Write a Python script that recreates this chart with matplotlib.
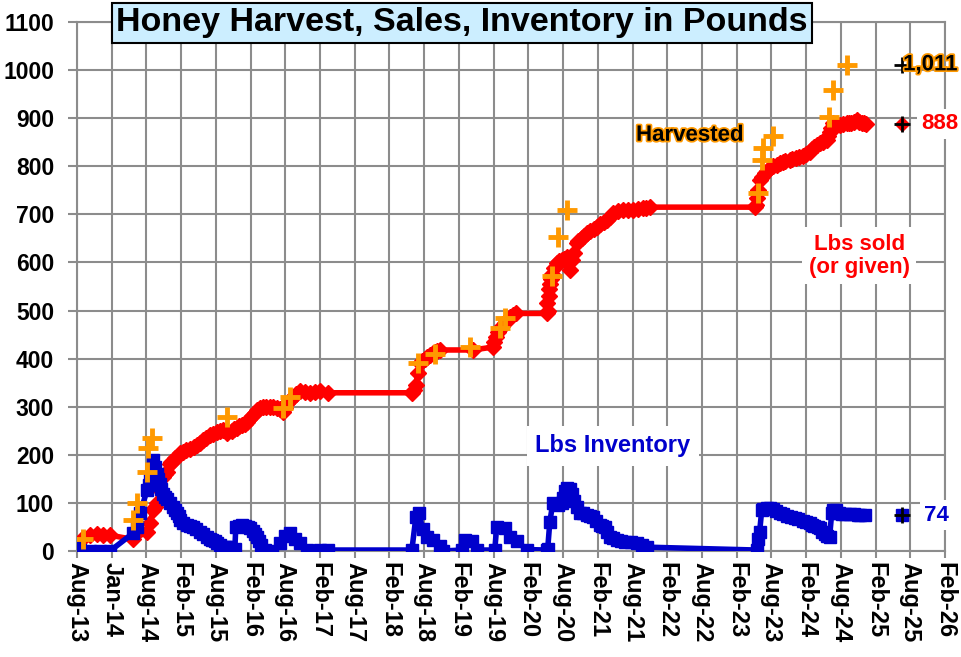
import numpy as np
import matplotlib
matplotlib.use("Agg")
import matplotlib.pyplot as plt
import matplotlib.dates as mdates
import matplotlib.patheffects as pe

plt.rcParams['font.family'] = ['Liberation Sans', 'DejaVu Sans']
plt.rcParams['font.weight'] = 'bold'

# cumulative pounds sold (or given)
sold_dates = [
    '2013-08-01', '2013-09-02', '2013-10-10', '2013-11-14', '2013-12-16', '2014-01-22',
    '2014-05-23', '2014-08-05', '2014-08-21', '2014-09-06', '2014-09-16', '2014-09-27',
    '2014-10-12', '2014-10-28', '2014-11-08', '2014-11-18', '2014-12-04', '2014-12-12',
    '2014-12-20', '2015-01-01', '2015-01-15', '2015-01-28', '2015-02-11', '2015-02-25',
    '2015-03-20', '2015-04-08', '2015-04-26', '2015-05-12', '2015-05-28', '2015-06-14',
    '2015-07-04', '2015-07-20', '2015-08-09', '2015-08-25', '2015-09-09', '2015-10-01',
    '2015-10-27', '2015-11-08', '2015-11-22', '2015-12-05', '2015-12-19', '2016-01-01',
    '2016-01-14', '2016-01-27', '2016-02-10', '2016-02-23', '2016-03-07', '2016-03-22',
    '2016-04-07', '2016-04-25', '2016-05-14', '2016-05-31', '2016-06-20', '2016-07-06',
    '2016-07-22', '2016-08-01', '2016-08-12', '2016-08-28', '2016-09-13', '2016-09-28',
    '2016-10-19', '2016-11-15', '2016-12-11', '2017-01-06', '2017-02-02', '2017-03-16',
    '2018-06-01', '2018-06-11', '2018-06-22', '2018-07-02', '2018-07-13', '2018-07-22',
    '2018-08-08', '2018-08-22', '2018-09-04', '2018-09-18', '2018-09-30', '2018-10-14',
    '2018-10-26', '2019-04-18',
    '2019-08-02', '2019-08-10', '2019-08-17', '2019-08-28', '2019-09-08', '2019-09-21',
    '2019-10-04', '2019-10-17', '2019-10-30', '2019-11-15', '2019-12-01',
    '2020-05-12', '2020-05-15', '2020-05-17', '2020-05-22', '2020-05-25', '2020-05-28',
    '2020-06-02', '2020-06-08', '2020-06-20', '2020-07-04', '2020-07-17', '2020-07-30',
    '2020-08-12', '2020-08-26', '2020-09-01', '2020-09-11', '2020-09-21', '2020-10-01',
    '2020-10-17', '2020-10-25', '2020-11-13', '2020-11-26', '2020-12-09', '2020-12-27',
    '2021-01-15', '2021-01-30', '2021-02-19', '2021-03-10', '2021-03-24', '2021-04-09',
    '2021-04-25', '2021-05-20', '2021-06-16', '2021-07-13', '2021-08-09', '2021-09-06',
    '2021-09-30', '2021-10-18', '2021-11-06',
    '2023-05-13', '2023-05-18', '2023-05-23', '2023-05-31', '2023-06-08', '2023-06-21',
    '2023-07-04', '2023-07-17', '2023-07-31', '2023-08-16', '2023-09-05', '2023-09-22',
    '2023-10-07', '2023-10-22', '2023-11-13', '2023-11-28', '2023-12-19', '2024-01-03',
    '2024-01-20', '2024-02-06', '2024-02-27', '2024-03-11', '2024-03-23', '2024-04-06',
    '2024-04-19', '2024-05-07', '2024-05-26', '2024-06-03', '2024-06-11', '2024-06-19',
    '2024-06-27', '2024-07-14', '2024-08-03', '2024-08-20', '2024-09-09', '2024-09-21',
    '2024-10-04', '2024-10-18', '2024-11-01', '2024-11-13', '2024-11-26', '2024-12-09',
    '2024-12-22',
]
sold_lbs = [
    2, 28, 33, 35, 33, 33,
    24, 40, 58, 85, 92, 100,
    127, 154, 160, 165, 180, 185,
    188, 193, 198, 203, 206, 209,
    212, 216, 220, 225, 230, 236,
    241, 244, 248, 250, 252, 245,
    250, 253, 256, 259, 262, 265,
    269, 274, 280, 286, 293, 298,
    300, 300, 300, 299, 298, 295,
    289, 298, 307, 314, 320, 326,
    332, 331, 328, 330, 332, 329,
    329, 335, 345, 370, 390, 395,
    400, 404, 408, 411, 414, 416,
    418, 418,
    424, 435, 445, 455, 462, 468,
    475, 481, 487, 491, 494,
    494, 515, 500, 530, 545, 555,
    565, 575, 588, 598, 602, 605,
    608, 611, 598, 585, 605, 620,
    640, 645, 650, 655, 661, 665,
    670, 674, 680, 684, 688, 695,
    702, 706, 709, 709, 709, 711,
    713, 714, 715,
    715, 720, 735, 750, 771, 778,
    785, 791, 796, 800, 803, 806,
    809, 811, 813, 815, 817, 820,
    822, 826, 830, 836, 840, 845,
    848, 851, 854, 862, 871, 880,
    890, 888, 885, 887, 890, 890,
    889, 893, 896, 893, 891, 889,
    888,
]

# cumulative pounds harvested
harvest_dates = [
    '2013-09-02', '2014-05-23', '2014-06-13', '2014-08-05', '2014-08-10', '2014-08-31',
    '2015-10-01', '2016-07-22', '2016-08-28', '2018-07-02', '2018-09-30', '2019-04-02',
    '2019-09-08', '2019-10-04', '2020-06-08', '2020-07-09', '2020-08-26', '2023-05-29',
    '2023-06-19', '2023-06-24', '2023-08-16', '2024-06-05', '2024-06-27', '2024-09-09',
]
harvest_lbs = [
    25, 64, 100, 164, 214, 235,
    279, 297, 320, 390, 410, 424,
    463, 484, 572, 653, 709, 744,
    813, 838, 863, 902, 958, 1011,
]

# pounds in inventory
inv_dates = [
    '2013-08-01', '2013-08-17', '2013-10-10', '2013-11-30', '2014-01-22', '2014-05-23',
    '2014-06-13', '2014-06-29', '2014-08-05', '2014-08-13', '2014-08-21', '2014-08-29',
    '2014-09-06', '2014-09-16', '2014-09-27', '2014-10-04', '2014-10-12', '2014-10-20',
    '2014-10-28', '2014-11-08', '2014-11-18', '2014-12-04', '2014-12-20', '2015-01-02',
    '2015-01-10', '2015-01-18', '2015-01-26', '2015-02-12', '2015-03-04', '2015-03-20',
    '2015-04-04', '2015-04-22', '2015-05-11', '2015-05-28', '2015-06-17', '2015-07-01',
    '2015-07-14', '2015-07-27', '2015-08-09', '2015-08-27', '2015-09-19', '2015-10-01',
    '2015-10-15', '2015-11-11', '2015-11-16', '2015-12-01', '2015-12-19', '2016-01-04',
    '2016-01-19', '2016-02-01', '2016-02-15', '2016-02-26', '2016-03-07', '2016-03-18',
    '2016-03-28', '2016-04-18', '2016-05-25', '2016-07-06', '2016-08-01', '2016-08-28',
    '2016-09-23', '2016-10-19', '2016-11-25', '2017-02-02', '2017-03-16',
    '2018-06-01', '2018-06-22', '2018-07-07', '2018-07-29', '2018-08-19', '2018-09-19',
    '2018-10-26', '2018-11-11', '2019-02-19', '2019-03-07', '2019-04-13', '2019-05-09',
    '2019-08-12', '2019-08-22', '2019-10-04', '2019-10-30', '2019-12-06', '2020-01-28',
    '2020-05-12', '2020-05-17', '2020-05-28', '2020-06-13', '2020-06-22', '2020-07-09',
    '2020-07-30', '2020-08-05', '2020-08-15', '2020-08-25', '2020-09-11', '2020-09-23',
    '2020-10-01', '2020-10-18', '2020-11-02', '2020-11-20', '2020-12-09', '2020-12-25',
    '2021-01-10', '2021-01-28', '2021-02-16', '2021-02-28', '2021-03-14', '2021-03-27',
    '2021-04-09', '2021-04-25', '2021-05-16', '2021-06-05', '2021-06-27', '2021-07-30',
    '2021-08-30', '2021-09-25', '2021-10-21',
    '2023-05-23', '2023-05-29', '2023-06-08', '2023-06-19', '2023-06-28', '2023-07-15',
    '2023-07-30', '2023-08-16', '2023-09-03', '2023-09-22', '2023-10-10', '2023-10-28',
    '2023-11-18', '2023-12-09', '2023-12-29', '2024-01-20', '2024-02-08', '2024-02-27',
    '2024-03-10', '2024-03-23', '2024-04-08', '2024-04-19', '2024-05-01', '2024-05-15',
    '2024-05-28', '2024-06-11', '2024-06-22', '2024-06-28', '2024-07-13', '2024-07-28',
    '2024-08-13', '2024-08-31', '2024-09-25', '2024-10-15', '2024-11-05', '2024-11-20',
    '2024-12-13',
]
inv_lbs = [
    12, 2, 0, 0, 0, 37,
    50, 78, 126, 138, 150, 170,
    190, 175, 160, 150, 140, 128,
    118, 112, 108, 100, 92, 85,
    80, 72, 64, 58, 55, 52,
    50, 45, 40, 35, 29, 25,
    22, 20, 17, 12, 8, 8,
    8, 5, 50, 53, 54, 52,
    50, 47, 42, 35, 29, 20,
    12, 3, 0, 17, 32, 37,
    25, 17, 2, 2, 2,
    2, 70, 78, 45, 30, 23,
    10, 0, 2, 23, 20, 2,
    2, 50, 48, 30, 20, 3,
    2, 5, 60, 100, 98, 95,
    100, 110, 125, 130, 128, 118,
    105, 92, 80, 78, 75, 72,
    70, 62, 55, 52, 50, 40,
    30, 26, 22, 20, 18, 18,
    17, 12, 8,
    2, 25, 40, 85, 88, 90,
    90, 88, 84, 80, 76, 72,
    70, 68, 66, 63, 60, 58,
    55, 52, 50, 48, 40, 35,
    32, 30, 80, 85, 85, 78,
    76, 76, 76, 76, 75, 75,
    74,
]

# latest totals shown at the right edge
latest_date = '2025-06-26'
latest_harvest = 1011
latest_sold = 888
latest_inv = 74

tick_labels = ['Aug-13', 'Jan-14', 'Aug-14', 'Feb-15', 'Aug-15', 'Feb-16', 'Aug-16',
               'Feb-17', 'Aug-17', 'Feb-18', 'Aug-18', 'Feb-19', 'Aug-19', 'Feb-20',
               'Aug-20', 'Feb-21', 'Aug-21', 'Feb-22', 'Aug-22', 'Feb-23', 'Aug-23',
               'Feb-24', 'Aug-24', 'Feb-25', 'Aug-25', 'Feb-26']

RED = '#FF0000'
BLUE = '#0000CC'
ORANGE = '#FF9900'
GRID = '#8C8C8C'

fig = plt.figure(figsize=(9.61, 6.57), dpi=100)
ax = fig.add_axes([77 / 961, 1 - 551 / 657, 868 / 961, 529 / 657])

sd = np.array(sold_dates, dtype='datetime64[D]')
sv = np.array(sold_lbs)
o = np.argsort(sd, kind='stable')
sd, sv = sd[o], sv[o]
idt = np.array(inv_dates, dtype='datetime64[D]')
iv = np.array(inv_lbs)
o = np.argsort(idt, kind='stable')
idt, iv = idt[o], iv[o]
hd = np.array(harvest_dates, dtype='datetime64[D]')
ld = np.datetime64(latest_date)

ax.plot(sd, sv, color=RED, lw=4, marker='D', ms=8, mec=RED, zorder=3)
ax.plot(idt, iv, color=BLUE, lw=4, marker='s', ms=9, mec=BLUE, zorder=4)
ax.plot(hd, harvest_lbs, ls='none', marker='+', ms=15, mew=3.5, color=ORANGE, zorder=5)

# end markers
ax.plot([ld], [latest_sold], marker='D', ms=7, color=RED, ls='none', zorder=6, clip_on=False)
ax.plot([ld], [latest_inv], marker='s', ms=8, color=BLUE, ls='none', zorder=6, clip_on=False)
for v in [latest_harvest, latest_sold, latest_inv]:
    ax.plot([ld], [v], marker='+', ms=11, mew=2, color='black', ls='none', zorder=7, clip_on=False)

# axes, ticks, grid
start = mdates.date2num(np.datetime64('2013-08-01'))
ticks = [start + 183 * i for i in range(len(tick_labels))]
ax.set_xlim(ticks[0], ticks[-1])
ax.set_ylim(0, 1100)
ax.set_xticks(ticks)
ax.set_xticklabels(tick_labels, rotation=-90, fontsize=17, fontweight='bold')
ax.set_yticks(np.arange(0, 1101, 100))
ax.set_yticklabels([str(v) for v in range(0, 1101, 100)], fontsize=16.5, fontweight='bold')
ax.tick_params(axis='y', length=6.5, width=1.5, color=GRID, pad=10)
ax.tick_params(axis='x', length=5, width=1.5, color=GRID, pad=3)
ax.grid(True, color=GRID, lw=1.5)
ax.set_axisbelow(True)
for s in ax.spines.values():
    s.set_color(GRID)
    s.set_linewidth(1.5)

# labels
ax.text(0.706, 0.786, 'Harvested', transform=ax.transAxes, fontsize=16, fontweight='bold',
        color='black', ha='center', va='center', zorder=8,
        path_effects=[pe.withStroke(linewidth=2.5, foreground=ORANGE)])
ax.text(0.901, 0.558, 'Lbs sold\n(or given)', transform=ax.transAxes, fontsize=16,
        fontweight='bold', color=RED, ha='center', va='center', linespacing=1.1, zorder=8,
        bbox=dict(boxstyle='square,pad=0.3', fc='white', ec='none'))
ax.text(0.6175, 0.1985, 'Lbs Inventory', transform=ax.transAxes, fontsize=17,
        fontweight='bold', color=BLUE, ha='center', va='center', zorder=8,
        bbox=dict(boxstyle='square,pad=0.35', fc='white', ec='none'))

ax.annotate('1,011', (ld, latest_harvest), xytext=(1, 0), textcoords='offset points',
            fontsize=16, fontweight='bold', color='black', ha='left', va='center',
            annotation_clip=False, zorder=8,
            path_effects=[pe.withStroke(linewidth=2.5, foreground=ORANGE)])
ax.annotate(str(latest_sold), (ld, latest_sold), xytext=(14, 0), textcoords='offset points',
            fontsize=16, fontweight='bold', color=RED, ha='left', va='center',
            annotation_clip=False, zorder=8,
            bbox=dict(boxstyle='square,pad=0.2', fc='white', ec='none'))
ax.annotate(str(latest_inv), (ld, latest_inv), xytext=(16, 0), textcoords='offset points',
            fontsize=16, fontweight='bold', color=BLUE, ha='left', va='center',
            annotation_clip=False, zorder=8,
            bbox=dict(boxstyle='square,pad=0.2', fc='white', ec='none'))

# title
fig.text(462 / 961, 1 - 23 / 657, 'Honey Harvest, Sales, Inventory in Pounds', fontsize=24.5,
         fontweight='bold', ha='center', va='center', zorder=10,
         bbox=dict(boxstyle='square,pad=0.12', fc='#CCEEFF', ec='black', lw=1.5))

fig.savefig('out.png', dpi=100)
